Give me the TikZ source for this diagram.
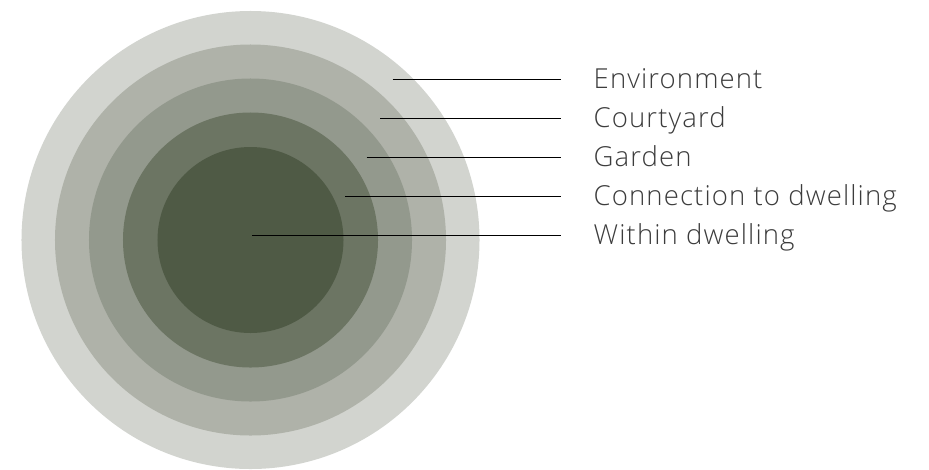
\documentclass[tikz,border=0pt]{standalone}
\usepackage{fontspec}
\setmainfont{Open Sans}[UprightFont=* Light, LetterSpace=4]
\usepackage{tikz}

\definecolor{ringA}{HTML}{D2D4CF}
\definecolor{ringB}{HTML}{AFB2A9}
\definecolor{ringC}{HTML}{93998D}
\definecolor{ringD}{HTML}{6C7563}
\definecolor{ringE}{HTML}{4F5A45}
\definecolor{labeltext}{HTML}{3C3C3C}

\tikzset{
  ring/.style={circle, draw=none, inner sep=0pt, minimum size=#1},
  zone/.style={anchor=base west, inner xsep=0.99cm, inner ysep=0pt,
    font=\fontsize{23.5}{28}\selectfont, text=labeltext},
  leader/.style={draw=black, line width=0.7pt}
}

\begin{document}
\begin{tikzpicture}[x=0.03cm, y=-0.03cm]
  \useasboundingbox (0,0) rectangle (929,469);
  % Rings
  \node[ring=13.74cm, fill=ringA] (environment) at (250.5,240) {};
  \node[ring=11.73cm, fill=ringB] (courtyard) at (250.5,240) {};
  \node[ring=9.69cm, fill=ringC] (garden) at (250.5,240) {};
  \node[ring=7.65cm, fill=ringD] (connection) at (250.5,240) {};
  \node[ring=5.58cm, fill=ringE] (within) at (250.5,240) {};
  % Leader starts
  \coordinate (p1) at (392.7,79);
  \coordinate (p2) at (380,118);
  \coordinate (p3) at (366.7,157);
  \coordinate (p4) at (345.3,196);
  \coordinate (p5) at (252.3,235);
  % Labels
  \node[zone] (l1) at (560.5,88) {Environment};
  \node[zone] (l2) at (560.5,127) {Courtyard};
  \node[zone] (l3) at (560.5,166) {Garden};
  \node[zone] (l4) at (560.5,205) {Connection to dwelling};
  \node[zone] (l5) at (560.5,244) {Within dwelling};
  % Leaders
  \draw[leader] (p1) -- (p1 -| l1.west);
  \draw[leader] (p2) -- (p2 -| l2.west);
  \draw[leader] (p3) -- (p3 -| l3.west);
  \draw[leader] (p4) -- (p4 -| l4.west);
  \draw[leader] (p5) -- (p5 -| l5.west);
\end{tikzpicture}
\end{document}
